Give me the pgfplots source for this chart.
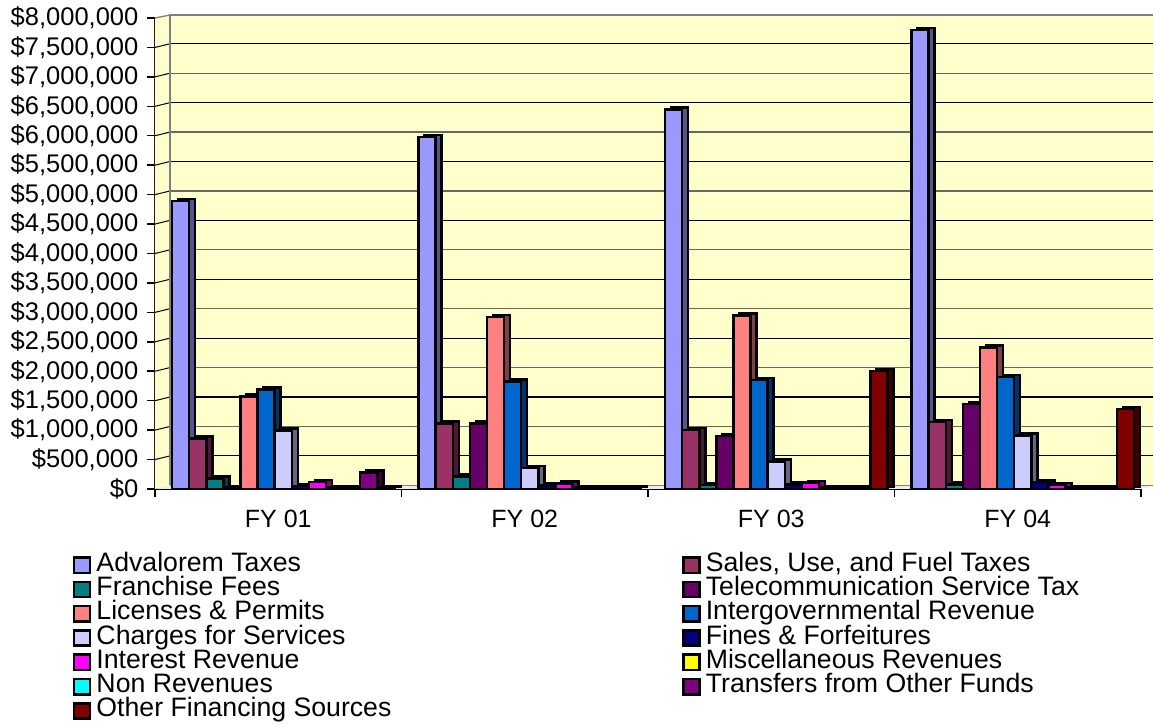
\documentclass[border=0pt]{standalone}
\usepackage{fontspec}
\setmainfont{Liberation Sans}
\usepackage{pgfplots}
\usepackage{pgfplotstable}
\pgfplotsset{compat=1.18}

% 1 px of the reference = 0.6pt here
\definecolor{wall}{HTML}{FFFFCC}
\definecolor{wallgray}{HTML}{808080}
\definecolor{cA}{HTML}{9999FF}\definecolor{sA}{HTML}{55558C}
\definecolor{cB}{HTML}{993366}\definecolor{sB}{HTML}{4D1A33}
\definecolor{cC}{HTML}{008080}\definecolor{sC}{HTML}{004040}
\definecolor{cD}{HTML}{660066}\definecolor{sD}{HTML}{330033}
\definecolor{cE}{HTML}{FF8080}\definecolor{sE}{HTML}{804040}
\definecolor{cF}{HTML}{0066CC}\definecolor{sF}{HTML}{003366}
\definecolor{cG}{HTML}{CCCCFF}\definecolor{sG}{HTML}{666680}
\definecolor{cH}{HTML}{000080}\definecolor{sH}{HTML}{000040}
\definecolor{cI}{HTML}{FF00FF}\definecolor{sI}{HTML}{800080}
\definecolor{cJ}{HTML}{FFFF00}\definecolor{sJ}{HTML}{808000}
\definecolor{cK}{HTML}{00FFFF}\definecolor{sK}{HTML}{008080}
\definecolor{cL}{HTML}{800080}\definecolor{sL}{HTML}{400040}
\definecolor{cM}{HTML}{800000}\definecolor{sM}{HTML}{400000}

\pgfplotstableread{
x   adv     sales   fran   tele    lic     inter   chg     fines  int    misc  non   trans  other
0.5 4890000 860000  180000 10000   1570000 1690000 990000  50000  120000 10000 10000 280000 5000
1.5 5980000 1110000 210000 1110000 2920000 1830000 360000  60000  90000  20000 5000  5000   5000
2.5 6450000 1000000 70000  900000  2950000 1850000 470000  80000  100000 10000 10000 10000  2000000
3.5 7800000 1140000 80000  1440000 2400000 1900000 910000  120000 70000  10000 10000 20000  1360000
}\revdata

% one series: the side face (shifted copy) first, then the front face
\newcommand{\revbar}[4]{
  \addplot[ybar, bar width=10.26pt, bar shift={(#2-6)*10.26pt+3pt},
    xshift=3.6pt, yshift=1.2pt, draw=black, fill=s#3, line width=1.5pt, forget plot]
    table[x=x, y=#1] {\revdata};
  \addplot[ybar, bar width=10.26pt, bar shift={(#2-6)*10.26pt+3pt},
    draw=black, fill=c#3, line width=1.5pt]
    table[x=x, y=#1] {\revdata};
  \addlegendentry{#4}
}

\begin{document}
\begin{tikzpicture}
  \path[use as bounding box] (0,0) rectangle (691.8pt,435.6pt);
  \begin{axis}[
      at={(93pt,142.2pt)},
      anchor=south west,
      scale only axis,
      width=591.6pt,
      height=282.6pt,
      xmin=0, xmax=4,
      ymin=0, ymax=8000000,
      clip=false,
      axis lines=left,
      axis line style={-, line width=0.9pt, black},
      font=\fontsize{15}{18}\selectfont,
      xtick={0,1,2,3,4},
      xticklabels={},
      extra x ticks={0.5,1.5,2.5,3.5},
      extra x tick labels={FY 01,FY 02,FY 03,FY 04},
      extra x tick style={major tick length=0pt, xticklabel style={yshift=-9pt}},
      ytick={0,500000,1000000,1500000,2000000,2500000,3000000,3500000,4000000,4500000,5000000,5500000,6000000,6500000,7000000,7500000,8000000},
      scaled y ticks=false,
      yticklabel={\$\pgfmathprintnumber{\tick}},
      /pgf/number format/.cd, fixed, precision=0, 1000 sep={,}, assume math mode=true,
      /pgfplots/.cd,
      tick align=outside,
      major tick length=4.8pt,
      tick style={line width=0.9pt, black},
      yticklabel style={inner sep=0pt, xshift=-5pt, font=\fontsize{15.3}{18}\selectfont},
      legend columns=2,
      legend cell align=left,
      legend image code/.code={
        \path[#1, draw=black, line width=1.5pt, sharp corners] (0pt,-4.6pt) rectangle (9.6pt,4.6pt);
      },
      legend style={
        at={(0,0)}, anchor=north west, xshift=-49.2pt, yshift=-38.4pt,
        draw=none, fill=none, inner sep=0pt, outer sep=0pt,
        font=\fontsize{16}{18}\selectfont,
        nodes={inner sep=0pt, text height=10.9pt, text depth=3.68pt},
        /tikz/every odd column/.append style={column sep=3pt},
      },
    ]
    % side wall, back wall and floor
    \fill[wall] (axis cs:0,0) -- ([shift={(9pt,2.2pt)}]axis cs:0,0)
      -- ([shift={(9pt,1.8pt)}]axis cs:0,8000000) -- (axis cs:0,8000000) -- cycle;
    \fill[wall] ([shift={(9pt,2.2pt)}]axis cs:0,0) rectangle ([shift={(8pt,1.8pt)}]axis cs:4,8000000);
    \fill[white!85!wallgray] (axis cs:0,0) -- ([shift={(9pt,2.2pt)}]axis cs:0,0)
      -- ([shift={(8pt,2.2pt)}]axis cs:4,0) -- (axis cs:4,0) -- cycle;
    \pgfplotsinvokeforeach{1000000,2000000,3000000,4000000,5000000,6000000,7000000}{
      \draw[wallgray!80!black, line width=0.8pt] ([shift={(9pt,2.2pt)}]axis cs:0,#1) -- ([shift={(8pt,2.2pt)}]axis cs:4,#1);
    }
    \pgfplotsinvokeforeach{500000,1500000,2500000,3500000,4500000,5500000,6500000,7500000}{
      \draw[black, line width=0.65pt] ([shift={(9pt,2.2pt)}]axis cs:0,#1) -- ([shift={(8pt,2.2pt)}]axis cs:4,#1);
    }
    \pgfplotsinvokeforeach{500000,1000000,1500000,2000000,2500000,3000000,3500000,4000000,4500000,5000000,5500000,6000000,6500000,7000000,7500000}{
      \draw[black, line width=0.6pt] (axis cs:0,#1) -- ++(9pt,2.2pt);
    }
    \draw[wallgray, line width=1.6pt] ([shift={(9pt,2.2pt)}]axis cs:0,0)
      -- ([shift={(9pt,1.8pt)}]axis cs:0,8000000) -- ([shift={(8pt,1.8pt)}]axis cs:4,8000000);
    \draw[wallgray, line width=0.8pt] (axis cs:0,8000000) -- ([shift={(9pt,1.8pt)}]axis cs:0,8000000);
    \draw[wallgray, line width=0.8pt] ([shift={(9pt,2.2pt)}]axis cs:0,0) -- ([shift={(8pt,2.2pt)}]axis cs:4,0);

    \revbar{adv}{0}{A}{Advalorem Taxes}
    \revbar{sales}{1}{B}{Sales, Use, and Fuel Taxes}
    \revbar{fran}{2}{C}{\makebox[351.5pt][l]{Franchise Fees}}
    \revbar{tele}{3}{D}{Telecommunication Service Tax}
    \revbar{lic}{4}{E}{Licenses \& Permits}
    \revbar{inter}{5}{F}{Intergovernmental Revenue}
    \revbar{chg}{6}{G}{Charges for Services}
    \revbar{fines}{7}{H}{Fines \& Forfeitures}
    \revbar{int}{8}{I}{Interest Revenue}
    \revbar{misc}{9}{J}{Miscellaneous Revenues}
    \revbar{non}{10}{K}{Non Revenues}
    \revbar{trans}{11}{L}{Transfers from Other Funds}
    \revbar{other}{12}{M}{Other Financing Sources}
  \end{axis}
\end{tikzpicture}
\end{document}
